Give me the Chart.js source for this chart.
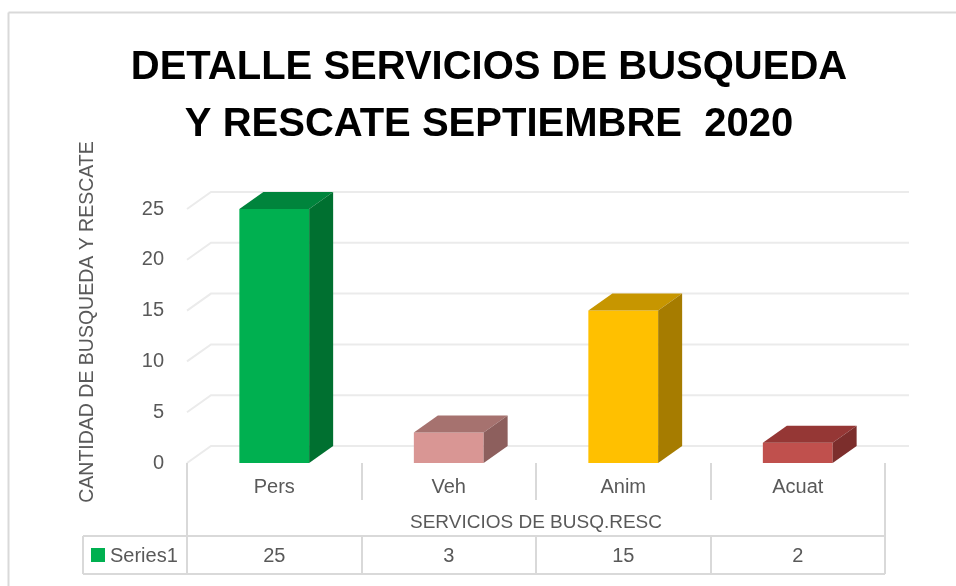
<!DOCTYPE html>
<html>
<head>
<meta charset="utf-8">
<script src="https://cdn.jsdelivr.net/npm/chart.js@4.4.0/dist/chart.umd.min.js"></script>
<style>
  html, body { margin: 0; padding: 0; background: #fff; }
  #wrap { width: 956px; height: 586px; }
</style>
</head>
<body>
<div id="wrap"><canvas id="chart" width="956" height="586"></canvas></div>
<script>
// ---------------------------------------------------------------------------
// Data
// ---------------------------------------------------------------------------

const titleLines = ['DETALLE SERVICIOS DE BUSQUEDA', 'Y RESCATE SEPTIEMBRE  2020'];
const categories = ['Pers', 'Veh', 'Anim', 'Acuat'];
const counts = [25, 3, 15, 2];
const yTicks = [0, 5, 10, 15, 20, 25];
const seriesName = 'Series1';
const xAxisTitle = 'SERVICIOS DE BUSQ.RESC';
const yAxisTitle = 'CANTIDAD DE BUSQUEDA Y RESCATE';

// ---------------------------------------------------------------------------
// Styles
// ---------------------------------------------------------------------------

const FONT = "'Liberation Sans', Arial, sans-serif";
const TEXT = '#595959';
const GRID = '#ebebeb';
const LINES = '#d9d9d9';
const LEGEND_GREEN = '#00B050';

// front / top / side face of each bar
const frontColors = ['#00B050', '#D99694', '#FFC000', '#C0504D'];
const topColors   = ['#00843C', '#A6726F', '#C79600', '#953735'];
const sideColors  = ['#007030', '#8D5F5D', '#A67C00', '#7C2E2C'];

// 3D depth offset of the back wall
const DX = 24;
const DY = -17;

// ---------------------------------------------------------------------------
// Plugins
// ---------------------------------------------------------------------------

function fillPoly(ctx, pts, color) {
  ctx.beginPath();
  ctx.moveTo(pts[0][0], pts[0][1]);
  for (let i = 1; i < pts.length; i++) ctx.lineTo(pts[i][0], pts[i][1]);
  ctx.closePath();
  ctx.fillStyle = color;
  ctx.fill();
}

function line(ctx, x1, y1, x2, y2) {
  ctx.beginPath();
  ctx.moveTo(x1, y1);
  ctx.lineTo(x2, y2);
  ctx.stroke();
}

const frame3d = {
  id: 'frame3d',

  beforeDraw(chart) {
    const { ctx, width, height } = chart;
    ctx.save();
    ctx.strokeStyle = LINES;
    ctx.lineWidth = 2;
    line(ctx, 8.5, height, 8.5, 12.5);
    line(ctx, 8.5, 12.5, width, 12.5);
    ctx.restore();
  },

  // back wall gridlines + floor, behind the bars
  beforeDatasetsDraw(chart) {
    const { ctx, chartArea: a, scales: { y } } = chart;
    ctx.save();
    ctx.strokeStyle = GRID;
    ctx.lineWidth = 2;
    y.ticks.forEach(t => {
      const py = y.getPixelForValue(t.value);
      ctx.beginPath();
      ctx.moveTo(a.left, py);
      ctx.lineTo(a.left + DX, py + DY);
      ctx.lineTo(a.right + DX, py + DY);
      ctx.stroke();
    });
    ctx.restore();
  },

  // top and side faces of the bars
  afterDatasetsDraw(chart) {
    const { ctx } = chart;
    const meta = chart.getDatasetMeta(0);
    ctx.save();
    meta.data.forEach((bar, i) => {
      const { x, y, base, width } = bar.getProps(['x', 'y', 'base', 'width'], true);
      const l = x - width / 2;
      const r = x + width / 2;
      fillPoly(ctx, [[l, y], [l + DX, y + DY], [r + DX, y + DY], [r, y]], topColors[i]);
      fillPoly(ctx, [[r, y], [r + DX, y + DY], [r + DX, base + DY], [r, base]], sideColors[i]);
    });
    ctx.restore();
  },

  // data table, legend key and the y axis title
  afterDraw(chart) {
    const { ctx, chartArea: a, scales: { x } } = chart;
    const values = chart.data.datasets[0].data;
    const half = (a.right - a.left) / chart.data.labels.length / 2;
    const rowTop = a.bottom + 73;
    const rowBottom = rowTop + 38;
    const legendLeft = 83;

    ctx.save();
    ctx.strokeStyle = LINES;
    ctx.lineWidth = 2;

    line(ctx, a.left, a.bottom, a.left, rowBottom);
    line(ctx, a.right, a.bottom, a.right, rowBottom);
    line(ctx, legendLeft, rowTop, a.right, rowTop);
    line(ctx, legendLeft, rowBottom, a.right, rowBottom);
    line(ctx, legendLeft, rowTop, legendLeft, rowBottom);

    for (let i = 1; i < values.length; i++) {
      const bx = Math.round(x.getPixelForValue(i) - half);
      line(ctx, bx, a.bottom, bx, a.bottom + 37);
      line(ctx, bx, rowTop, bx, rowBottom);
    }

    const midY = (rowTop + rowBottom) / 2;
    ctx.font = `20px ${FONT}`;
    ctx.fillStyle = TEXT;
    ctx.textAlign = 'center';
    ctx.textBaseline = 'middle';
    values.forEach((v, i) => ctx.fillText(String(v), x.getPixelForValue(i), midY + 1));

    ctx.fillStyle = LEGEND_GREEN;
    ctx.fillRect(91, midY - 7, 14, 14);
    ctx.fillStyle = TEXT;
    ctx.textAlign = 'left';
    ctx.fillText(seriesName, 110, midY + 1);

    ctx.translate(88, 322);
    ctx.rotate(-Math.PI / 2);
    ctx.textAlign = 'center';
    ctx.font = `19.5px ${FONT}`;
    ctx.fillText(yAxisTitle, 0, 0);
    ctx.restore();
  },
};

// ---------------------------------------------------------------------------
// Chart
// ---------------------------------------------------------------------------

new Chart(document.getElementById('chart'), {
  type: 'bar',
  data: {
    labels: categories,
    datasets: [{
      label: seriesName,
      data: counts,
      backgroundColor: frontColors,
      borderWidth: 0,
      barPercentage: 0.4,
      categoryPercentage: 1,
    }],
  },
  options: {
    responsive: false,
    animation: false,
    layout: { padding: { left: 93, right: 71, top: 0, bottom: 49 } },
    plugins: {
      legend: { display: false },
      tooltip: { enabled: false },
      title: {
        display: true,
        text: titleLines,
        color: '#000',
        font: { family: FONT, size: 40, weight: 'bold', lineHeight: 1.4375 },
        padding: { top: 39, bottom: 55 },
      },
    },
    scales: {
      x: {
        grid: { display: false, drawTicks: false },
        border: { display: false },
        ticks: { color: TEXT, font: { family: FONT, size: 20 }, padding: 12 },
        title: {
          display: true,
          text: xAxisTitle,
          color: TEXT,
          font: { family: FONT, size: 19 },
          padding: { top: 0, bottom: 3 },
        },
        afterFit: scale => { scale.height = 74; },
      },
      y: {
        min: 0,
        max: 25,
        grid: { display: false, drawTicks: false },
        border: { display: false },
        ticks: { color: TEXT, font: { family: FONT, size: 20 }, padding: 23 },
        afterBuildTicks: scale => { scale.ticks = yTicks.map(v => ({ value: v })); },
        afterFit: scale => { scale.width = 94; },
      },
    },
  },
  plugins: [frame3d],
});
</script>
</body>
</html>
